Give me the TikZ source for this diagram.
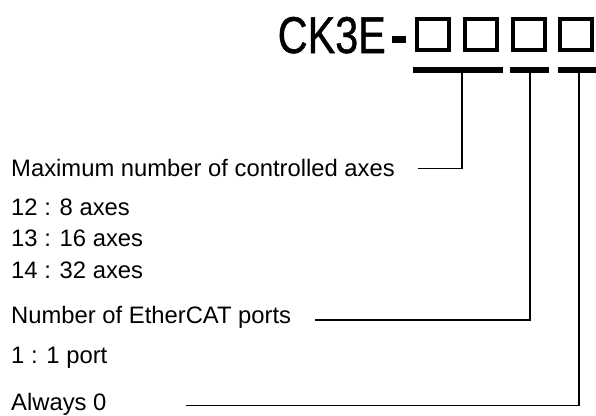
\documentclass[tikz,border=0pt]{standalone}
\usepackage{fontspec}
\setmainfont{Liberation Sans}
\newfontfamily\titlefont[FakeBold=1]{Liberation Sans}
\begin{document}
\begin{tikzpicture}[x=1pt,y=-1pt,
  lbl/.style={anchor=base west,inner sep=0pt,font=\fontsize{23.8pt}{28pt}\selectfont},
  codebox/.style={draw,line width=4pt,minimum width=32pt,minimum height=31pt,inner sep=0pt},
  bar/.style={fill,inner sep=0pt,minimum height=6pt},
  leader/.style={line width=1.4pt}]
\useasboundingbox (0,0) rectangle (596,415);
% title
\node[anchor=base east,inner sep=0pt,font=\titlefont\fontsize{51.7pt}{60pt}\selectfont] (model) at (386,53) {\scalebox{0.8}[1]{CK3E}};
\node[fill,inner sep=0pt,minimum width=14pt,minimum height=6.5pt] (dash) at (399,39.5) {};
\node[codebox] (b1) at (433,34.5) {};
\node[codebox] (b2) at (481,34.5) {};
\node[codebox] (b3) at (529,34.5) {};
\node[codebox] (b4) at (576,34.5) {};
% underline bars
\node[bar,minimum width=90pt] (bar1) at (458,70) {};
\node[bar,minimum width=39pt] (bar2) at (529.5,70) {};
\node[bar,minimum width=38pt] (bar3) at (577,70) {};
% labels
\node[lbl] (maxax) at (11,176.7) {Maximum number of controlled axes};
\node[lbl] (a12) at (11,215.7) {12 : 8 axes};
\node[lbl] (a13) at (11,246.7) {13 : 16 axes};
\node[lbl] (a14) at (11,278.3) {14 : 32 axes};
\node[lbl] (ecat) at (11,323.3) {Number of EtherCAT ports};
\node[lbl] (p1) at (11,363.3) {1 : 1 port};
\node[lbl] (alw) at (11,410.5) {Always 0};
% leader lines
\coordinate (m1) at (418,168.5);
\coordinate (v1) at (462,168.5);
\coordinate (e1) at (315,320);
\coordinate (v2) at (530,320);
\coordinate (z1) at (186,405.7);
\coordinate (v3) at (579,405.7);
\draw[leader] (m1) -- (v1) -- (v1 |- bar1.south);
\draw[leader] (e1) -- (v2) -- (v2 |- bar2.south);
\draw[leader] (z1) -- (v3) -- (v3 |- bar3.south);
\end{tikzpicture}
\end{document}
